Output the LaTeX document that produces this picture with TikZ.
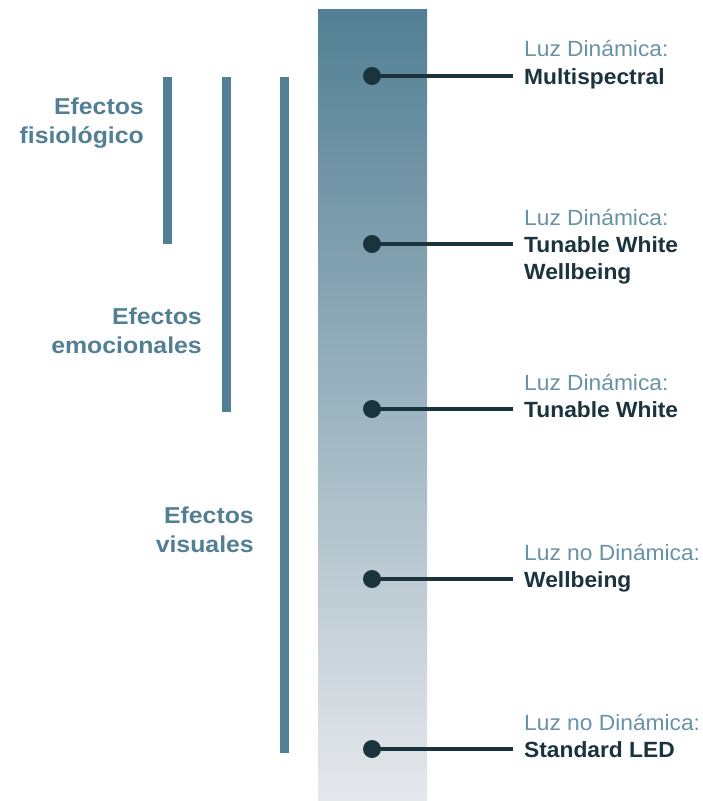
\documentclass[tikz,border=0pt]{standalone}
\usepackage{fontspec}
\setmainfont{Liberation Sans}
\newfontfamily\anchaizq[FakeStretch=1.08]{Liberation Sans}
\newfontfamily\anchader[FakeStretch=1.035]{Liberation Sans}
\usetikzlibrary{positioning, calc}
\definecolor{barteal}{RGB}{82,127,148}
\definecolor{barlight}{RGB}{230,232,236}
\definecolor{luztxt}{RGB}{104,146,165}
\definecolor{inkdark}{RGB}{27,51,61}
\tikzset{
  punto/.style={circle, fill=inkdark, inner sep=0pt, minimum size=18pt},
  guia/.style={line width=4.5pt, color=inkdark},
  tipo/.style={anchor=north west, inner sep=0pt, align=left, text=inkdark, font=\anchader\fontsize{22}{27}\selectfont\bfseries},
  luz/.style={anchor=base west, inner sep=0pt, text=luztxt, font=\anchader\fontsize{22}{27}\selectfont},
  efecto/.style={anchor=north east, inner sep=0pt, align=right, text=barteal, font=\anchaizq\fontsize{23}{28.5}\selectfont\bfseries},
  banda/.style={fill=barteal}
}
\begin{document}
\begin{tikzpicture}[x=1pt, y=-1pt]
  \useasboundingbox (0,0) rectangle (703,801);
  % barra degradada
  \shade [top color=barteal, bottom color=barlight] (318,9) rectangle (427,801);

  % bandas de efectos
  \fill [banda] (163,77) rectangle (172,244);
  \fill [banda] (222,77) rectangle (231,412);
  \fill [banda] (280,77) rectangle (289,753);
  \node (ef1) [efecto] at (144,98) {Efectos\\fisiológico};
  \node (ef2) [efecto] at (202,308) {Efectos\\emocionales};
  \node (ef3) [efecto] at (254,507) {Efectos\\visuales};

  % puntos y etiquetas
  \node (p1) [punto] at (372,76) {};
  \node (p2) [punto] at (372,244) {};
  \node (p3) [punto] at (372,409) {};
  \node (p4) [punto] at (372,579) {};
  \node (p5) [punto] at (372,749) {};
  \node (t1) [tipo] at (524,68) {Multispectral};
  \node (t2) [tipo] at (524,236) {Tunable White\\Wellbeing};
  \node (t3) [tipo] at (524,401) {Tunable White};
  \node (t4) [tipo] at (524,571) {Wellbeing};
  \node (t5) [tipo] at (524,741) {Standard LED};
  \node (l1) [luz] at ($(t1.north west)+(0,-12)$) {Luz Dinámica:};
  \node (l2) [luz] at ($(t2.north west)+(0,-11)$) {Luz Dinámica:};
  \node (l3) [luz] at ($(t3.north west)+(0,-11)$) {Luz Dinámica:};
  \node (l4) [luz] at ($(t4.north west)+(0,-11)$) {Luz no Dinámica:};
  \node (l5) [luz] at ($(t5.north west)+(0,-11)$) {Luz no Dinámica:};
  \coordinate (e1) at (513,76);
  \coordinate (e2) at (513,244);
  \coordinate (e3) at (513,409);
  \coordinate (e4) at (513,579);
  \coordinate (e5) at (513,749);
  \draw [guia] (p1.center) -- (e1); \draw [guia] (p2.center) -- (e2);
  \draw [guia] (p3.center) -- (e3); \draw [guia] (p4.center) -- (e4);
  \draw [guia] (p5.center) -- (e5);
\end{tikzpicture}
\end{document}
